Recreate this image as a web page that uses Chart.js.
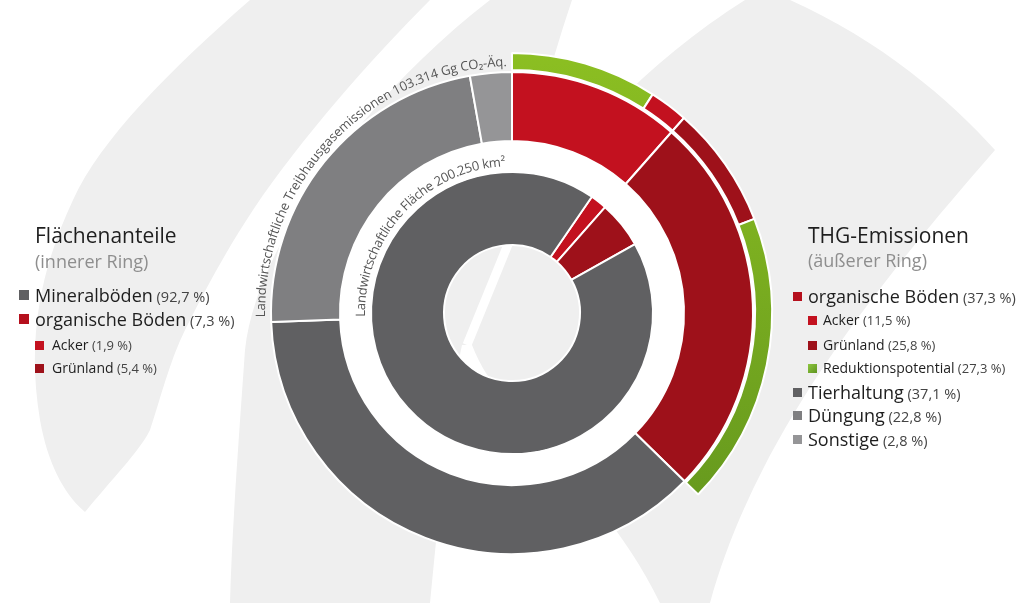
<!DOCTYPE html>
<html><head><meta charset="utf-8">
<script src="https://cdn.jsdelivr.net/npm/chart.js@4.4.1/dist/chart.umd.min.js"></script>
<style>
html,body{margin:0;padding:0;background:#fff;}
#wrap{position:relative;width:1024px;height:603px;overflow:hidden;font-family:'Open Sans',sans-serif;}
#bg{position:absolute;left:0;top:0;}
#c{position:absolute;left:0;top:0;}
.t{position:absolute;white-space:nowrap;}
.sq{position:absolute;}
</style></head><body>
<div id="wrap">
<svg id="bg" width="1024" height="603" xmlns="http://www.w3.org/2000/svg">
  <rect x="0" y="0" width="1024" height="603" fill="#ffffff"/>
  <path fill="#efefef" d="M250,0 C170,70 100,140 73,200 C45,260 25,330 40,420 C48,465 65,495 85,512 C120,470 140,450 150,430 C160,400 170,360 185,330 C210,280 230,245 253,210 C300,140 370,60 430,0 Z"/>
  <path fill="#efefef" d="M490,0 L790,0 C880,40 950,100 995,150 C900,260 760,420 710,603 L230,603 C232,530 238,450 245,350 C255,250 360,100 490,0 Z"/>
  <path fill="#ffffff" d="M572,0 L745,0 C650,60 560,150 513,245 L505,240 C520,180 545,80 572,0 Z"/>
  <line x1="509" y1="242" x2="467" y2="345" stroke="#ffffff" stroke-width="9"/>
  <path fill="#ffffff" d="M462,345 L472,345 C500,420 600,480 660,603 L430,603 C440,500 450,400 462,345 Z"/>
</svg>
<canvas id="c" width="1024" height="603"></canvas>
<div id="legend"></div>
</div>
<script>
// ---------- data ----------
const outerLabels = ['Acker', 'Grünland', 'Tierhaltung', 'Düngung', 'Sonstige'];
const outerValues = [11.5, 25.8, 37.1, 22.8, 2.8];
const bandLabels = ['Acker Reduktionspotential', 'Acker', 'Grünland', 'Grünland Reduktionspotential'];
const bandValues = [9.1, 2.4, 7.6, 18.2];
const reductionTotal = 27.3;
const innerLabels = ['Acker', 'Grünland', 'Mineralböden'];
const innerValues = [1.9, 5.4, 92.7];
const innerStartAngle = 34.5;
const emissionsCaption = 'Landwirtschaftliche Treibhausgasemissionen 103.314 Gg CO\u2082-\u00C4q.';
const areaCaption = 'Landwirtschaftliche Fläche 200.250 km\u00B2';

// ---------- styles ----------
const COL = {
  acker: '#c3111f', gruen: '#9e111a', organic: '#b5101d',
  dark: '#606062', dueng: '#7f7f81', sonst: '#959597',
  white: '#ffffff', none: 'rgba(0,0,0,0)'
};
function greenGrad(c) {
  const g = c.chart.ctx.createLinearGradient(0, 50, 0, 500);
  g.addColorStop(0, '#8cbf22');
  g.addColorStop(1, '#679a1e');
  return g;
}

const organicSum = outerValues[0] + outerValues[1];
const bandRest = 100 - bandValues.reduce((a, b) => a + b, 0);

const arcText = {
  id: 'arcText',
  afterDatasetsDraw(chart) {
    const a = chart.getDatasetMeta(2).data[0];
    const ctx = chart.ctx;
    drawArcText(ctx, emissionsCaption, a.x, a.y, 247, 269, 358.8, '13px "Open Sans"', '#555555');
    drawArcText(ctx, areaCaption, a.x, a.y, 147, 268.5, 357.5, '13px "Open Sans"', '#555555');
  }
};
function drawArcText(ctx, text, cx, cy, r, a0, a1, font, color) {
  ctx.save();
  ctx.font = font; ctx.fillStyle = color;
  ctx.textAlign = 'center'; ctx.textBaseline = 'alphabetic';
  const chars = [...text];
  const w = chars.map(ch => ctx.measureText(ch).width);
  const W = w.reduce((s, v) => s + v, 0);
  const L = (a1 - a0) * Math.PI / 180 * r;
  const extra = (L - W) / (chars.length - 1);
  let s = 0;
  chars.forEach((ch, i) => {
    const th = a0 * Math.PI / 180 + (s + w[i] / 2) / r;
    ctx.save();
    ctx.translate(cx + r * Math.sin(th), cy - r * Math.cos(th));
    ctx.rotate(th);
    ctx.fillText(ch, 0, 0);
    ctx.restore();
    s += w[i] + extra;
  });
  ctx.restore();
}

new Chart(document.getElementById('c'), {
  type: 'doughnut',
  data: {
    labels: outerLabels,
    datasets: [
      {
        label: 'Reduktionspotential',
        data: [...bandValues, bandRest],
        backgroundColor: (c) => [null, COL.acker, COL.gruen, null, COL.none][c.dataIndex] || (c.dataIndex === 4 ? COL.none : greenGrad(c)),
        borderColor: COL.white, borderWidth: [2, 2, 2, 2, 0], weight: 17
      },
      {
        label: 'spacer',
        data: [organicSum, 100 - organicSum],
        backgroundColor: [COL.white, COL.none], borderWidth: 0, weight: 2
      },
      {
        label: 'THG-Emissionen',
        data: outerValues,
        backgroundColor: [COL.acker, COL.gruen, COL.dark, COL.dueng, COL.sonst],
        borderColor: COL.white, borderWidth: 2, weight: 69
      },
      {
        label: 'gap', data: [100], backgroundColor: COL.white, borderWidth: 0, weight: 31
      },
      {
        label: 'Flächenanteile',
        data: innerValues,
        backgroundColor: [COL.acker, COL.gruen, COL.dark],
        rotation: innerStartAngle,
        borderColor: COL.white, borderWidth: 2, weight: 73
      }
    ]
  },
  options: {
    responsive: false, animation: false, events: [],
    radius: 260, cutout: (68 / 260 * 100) + '%',
    layout: { padding: { top: 23 } },
    plugins: { legend: { display: false }, tooltip: { enabled: false } }
  },
  plugins: [arcText]
});

// ---------- legends ----------
function fmt(v) { return '(' + v.toFixed(1).replace('.', ',') + '\u00A0%)'; }
const leg = document.getElementById('legend');
function line(o) {
  const lh = 26;
  if (o.sq) {
    const s = document.createElement('div');
    s.className = 'sq';
    s.style.cssText = `left:${o.sqx}px;top:${o.cy - o.sqs / 2}px;width:${o.sqs}px;height:${o.sqs}px;background:${o.sq};`;
    leg.appendChild(s);
  }
  const d = document.createElement('div');
  d.className = 't';
  d.style.cssText = `left:${o.x}px;top:${o.cy - lh / 2}px;line-height:${lh}px;font-size:${o.fs}px;color:${o.color || '#1e1e1e'};`;
  d.textContent = o.text;
  if (o.val !== undefined) {
    const p = document.createElement('span');
    p.style.cssText = `font-size:${o.pfs}px;color:#444;`;
    p.textContent = ' ' + fmt(o.val);
    d.appendChild(p);
  }
  leg.appendChild(d);
}
const greenSq = 'linear-gradient(135deg,#8dc63f,#5f9420)';
// left legend (inner ring)
line({ text: 'Flächenanteile', x: 35, cy: 235, fs: 21 });
line({ text: '(innerer Ring)', x: 35, cy: 261, fs: 18, color: '#8e8e8e' });
line({ text: innerLabels[2], val: innerValues[2], x: 35, cy: 295, fs: 18, pfs: 14.5, sq: COL.dark, sqx: 19, sqs: 10 });
line({ text: 'organische Böden', val: innerValues[0] + innerValues[1], x: 35, cy: 319, fs: 18, pfs: 14.5, sq: COL.organic, sqx: 19, sqs: 10 });
line({ text: innerLabels[0], val: innerValues[0], x: 52, cy: 345, fs: 14, pfs: 13, sq: COL.acker, sqx: 35, sqs: 9 });
line({ text: innerLabels[1], val: innerValues[1], x: 52, cy: 368, fs: 14, pfs: 13, sq: COL.gruen, sqx: 35, sqs: 9 });
// right legend (outer ring)
line({ text: 'THG-Emissionen', x: 808, cy: 235, fs: 21 });
line({ text: '(äußerer Ring)', x: 808, cy: 260, fs: 18, color: '#8e8e8e' });
line({ text: 'organische Böden', val: organicSum, x: 808, cy: 296, fs: 18, pfs: 14.5, sq: COL.organic, sqx: 793, sqs: 9 });
line({ text: outerLabels[0], val: outerValues[0], x: 823, cy: 320, fs: 14, pfs: 13, sq: COL.acker, sqx: 808, sqs: 9 });
line({ text: outerLabels[1], val: outerValues[1], x: 823, cy: 345, fs: 14, pfs: 13, sq: COL.gruen, sqx: 808, sqs: 9 });
line({ text: 'Reduktionspotential', val: reductionTotal, x: 823, cy: 368, fs: 14, pfs: 13, sq: greenSq, sqx: 808, sqs: 9 });
line({ text: outerLabels[2], val: outerValues[2], x: 808, cy: 392, fs: 18, pfs: 14.5, sq: COL.dark, sqx: 793, sqs: 9 });
line({ text: outerLabels[3], val: outerValues[3], x: 808, cy: 415, fs: 18, pfs: 14.5, sq: COL.dueng, sqx: 793, sqs: 9 });
line({ text: outerLabels[4], val: outerValues[4], x: 808, cy: 439, fs: 18, pfs: 14.5, sq: COL.sonst, sqx: 793, sqs: 9 });
</script>
</body></html>
